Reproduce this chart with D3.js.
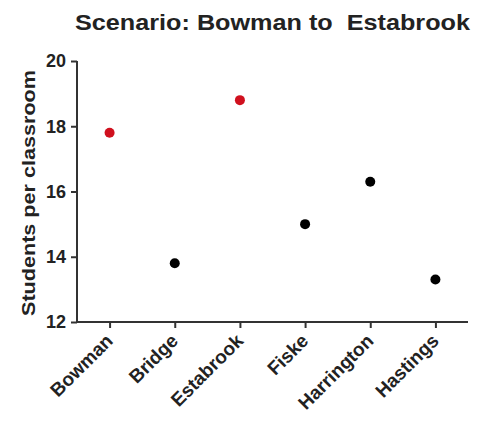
<!DOCTYPE html>
<html><head><meta charset="utf-8">
<script src="https://cdn.jsdelivr.net/npm/d3@7"></script>
<style>body{margin:0;background:#fff}svg{display:block}text{font-family:"Liberation Sans",Arial,sans-serif;font-weight:bold;fill:#222;white-space:pre}</style>
</head><body><svg id="c" width="480" height="421"></svg>
<script>
const schools = ["Bowman","Bridge","Estabrook","Fiske","Harrington","Hastings"];
const students = [17.8,13.8,18.8,15.0,16.3,13.3];
const highlighted = ["Bowman","Estabrook"];
const yTicks = [12,14,16,18,20];
const title = "Scenario: Bowman to  Estabrook";
const yLabel = "Students per classroom";

const svg = d3.select("#c");
const x = d3.scalePoint().domain(schools).range([77,468]).padding(0.5);
const y = d3.scaleLinear().domain([12,20]).range([322,61]);

svg.append("text").attr("x",75).attr("y",30).attr("text-anchor","start")
  .attr("textLength",395).attr("lengthAdjust","spacingAndGlyphs")
  .style("font-size","22px").text(title);
svg.append("text").attr("transform","translate(35,193) rotate(-90)").attr("text-anchor","middle")
  .attr("textLength",246).attr("lengthAdjust","spacingAndGlyphs")
  .style("font-size","19px").text(yLabel);

const ya = svg.append("g").attr("transform","translate(77,0)")
  .call(d3.axisLeft(y).tickValues(yTicks).tickSize(6).tickSizeOuter(0).tickPadding(5));
const xa = svg.append("g").attr("transform","translate(0,322)")
  .call(d3.axisBottom(x).tickSize(6).tickSizeOuter(0));
[ya,xa].forEach(a=>{
  a.select(".domain").attr("stroke","#333").attr("stroke-width",2);
  a.selectAll(".tick line").attr("stroke","#333").attr("stroke-width",2);
  a.selectAll("text").style("font-size","18px").attr("fill","#222");
});
xa.selectAll(".tick text").style("font-size","19px");
xa.select(".domain").attr("d","M77,0H468");
ya.select(".domain").attr("d","M0,61V322");
xa.selectAll(".tick text").attr("text-anchor","end").attr("dy","0").attr("y",0)
  .attr("transform","translate(4,20) rotate(-45)");

svg.append("g").selectAll("circle").data(schools).join("circle")
  .attr("cx",d=>x(d)).attr("cy",(d,i)=>y(students[i])).attr("r",5)
  .attr("fill",d=>highlighted.includes(d)?"#d0101e":"#000");
</script></body></html>
